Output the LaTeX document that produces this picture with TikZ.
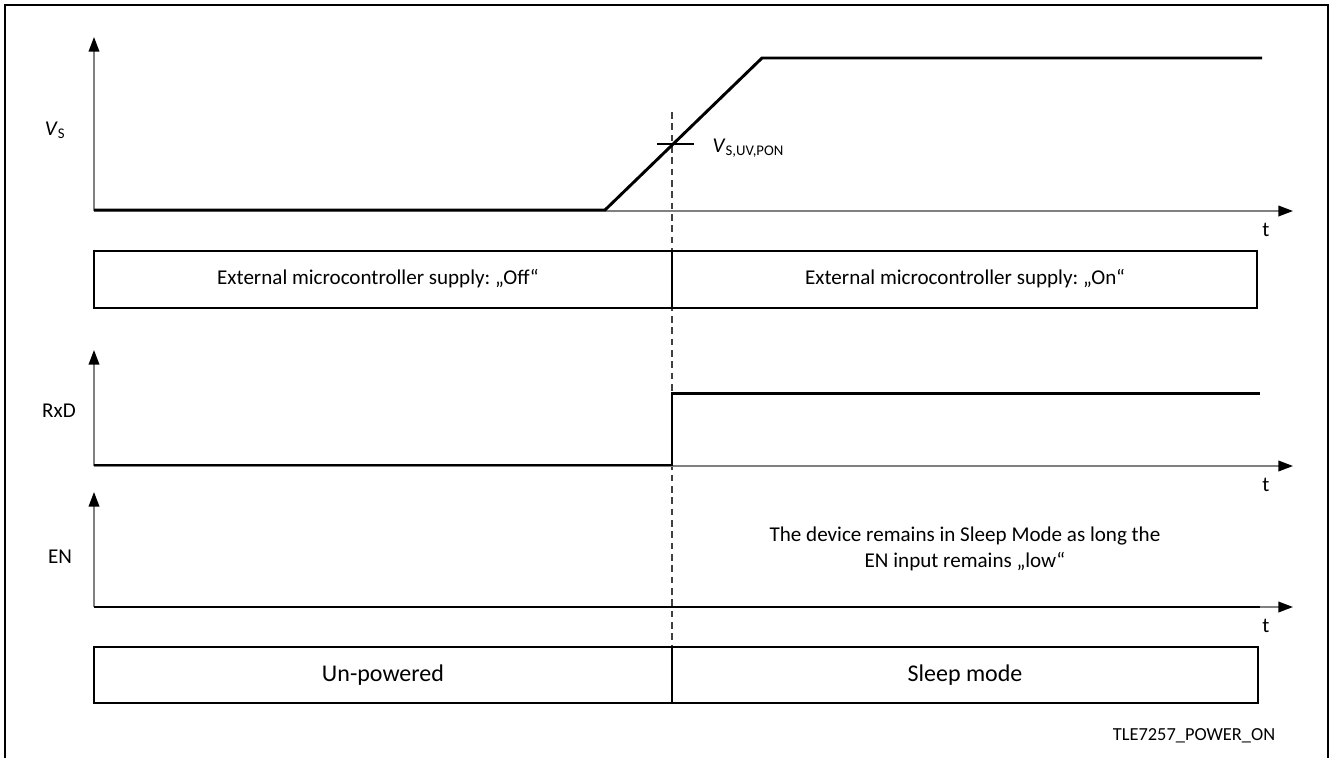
\documentclass[tikz,border=0pt]{standalone}
\usepackage{fontspec}
\setmainfont{Carlito}
\usetikzlibrary{arrows.meta}
\frenchspacing

\begin{document}
\begin{tikzpicture}[x=0.75pt,y=-0.75pt,
    axis/.style={draw=gray,line width=1.2pt,-{Triangle[length=11pt,width=8pt,color=black]}},
    signal/.style={line width=2.2pt,line join=miter},
    phase/.style={draw,line width=2pt},
    lbl/.style={font=\fontsize{15.8}{19}\selectfont},
    biglbl/.style={font=\fontsize{18}{22}\selectfont},
    smalllbl/.style={font=\fontsize{13.8}{17}\selectfont}]
          \useasboundingbox (0,0) rectangle (1331,758);
          \draw[line width=1.2pt] (5,758)--(5,5)--(1328,5)--(1328,758);
          % V_S
          \draw[axis] (94,211)--(94,37);
          \draw[axis] (94,211)--(1293,211);
          \node[lbl] (t1) at (1266,230) {t};
          \node[lbl] (vs) at (55,130) {\textit{V}\textsubscript{S}};
          \draw[dashed,dash pattern=on 5pt off 3.5pt,draw=black!75,line width=0.9pt] (672,112)--(672,647);
          \draw[signal] (94,210)--(605,210)--(762,58)--(1262,58);
          \draw[line width=0.9pt] (657,144)--(694,144);
          \node[lbl,anchor=west] (vth) at (708,148) {\textit{V}\textsubscript{S,UV,PON}};
          % supply
          \draw[phase] (94,251) rectangle (1257,308);
          \draw[phase] (672,251)--(672,308);
          \node[lbl] (off) at (378,279) {External microcontroller supply: „Off“};
          \node[lbl] (on) at (965,279) {External microcontroller supply: „On“};
          % RxD
          \draw[axis] (94,466)--(94,350);
          \draw[axis] (94,466)--(1293,466);
          \node[lbl] (t2) at (1266,485) {t};
          \node[lbl] (rxd) at (59,411) {RxD};
          \draw[signal] (94,465)--(672,465)--(672,393.5)--(1260,393.5);
          % EN
          \draw[axis] (94,607)--(94,492);
          \draw[axis] (94,607)--(1293,607);
          \node[lbl] (t3) at (1266,626) {t};
          \node[lbl] (en) at (60,557) {EN};
          \draw[signal] (94,607)--(1260,607);
          \node[lbl,align=center] (note) at (965,549) {The device remains in Sleep Mode as long the\\EN input remains „low“};
          % mode
          \draw[phase] (94,647) rectangle (1258,703);
          \draw[phase] (672,647)--(672,703);
          \node[biglbl] (unp) at (383,675) {Un-powered};
          \node[biglbl] (slp) at (965,675) {Sleep mode};
          \node[smalllbl] (name) at (1194,736) {TLE7257\_POWER\_ON};
        \end{tikzpicture}
\end{document}
